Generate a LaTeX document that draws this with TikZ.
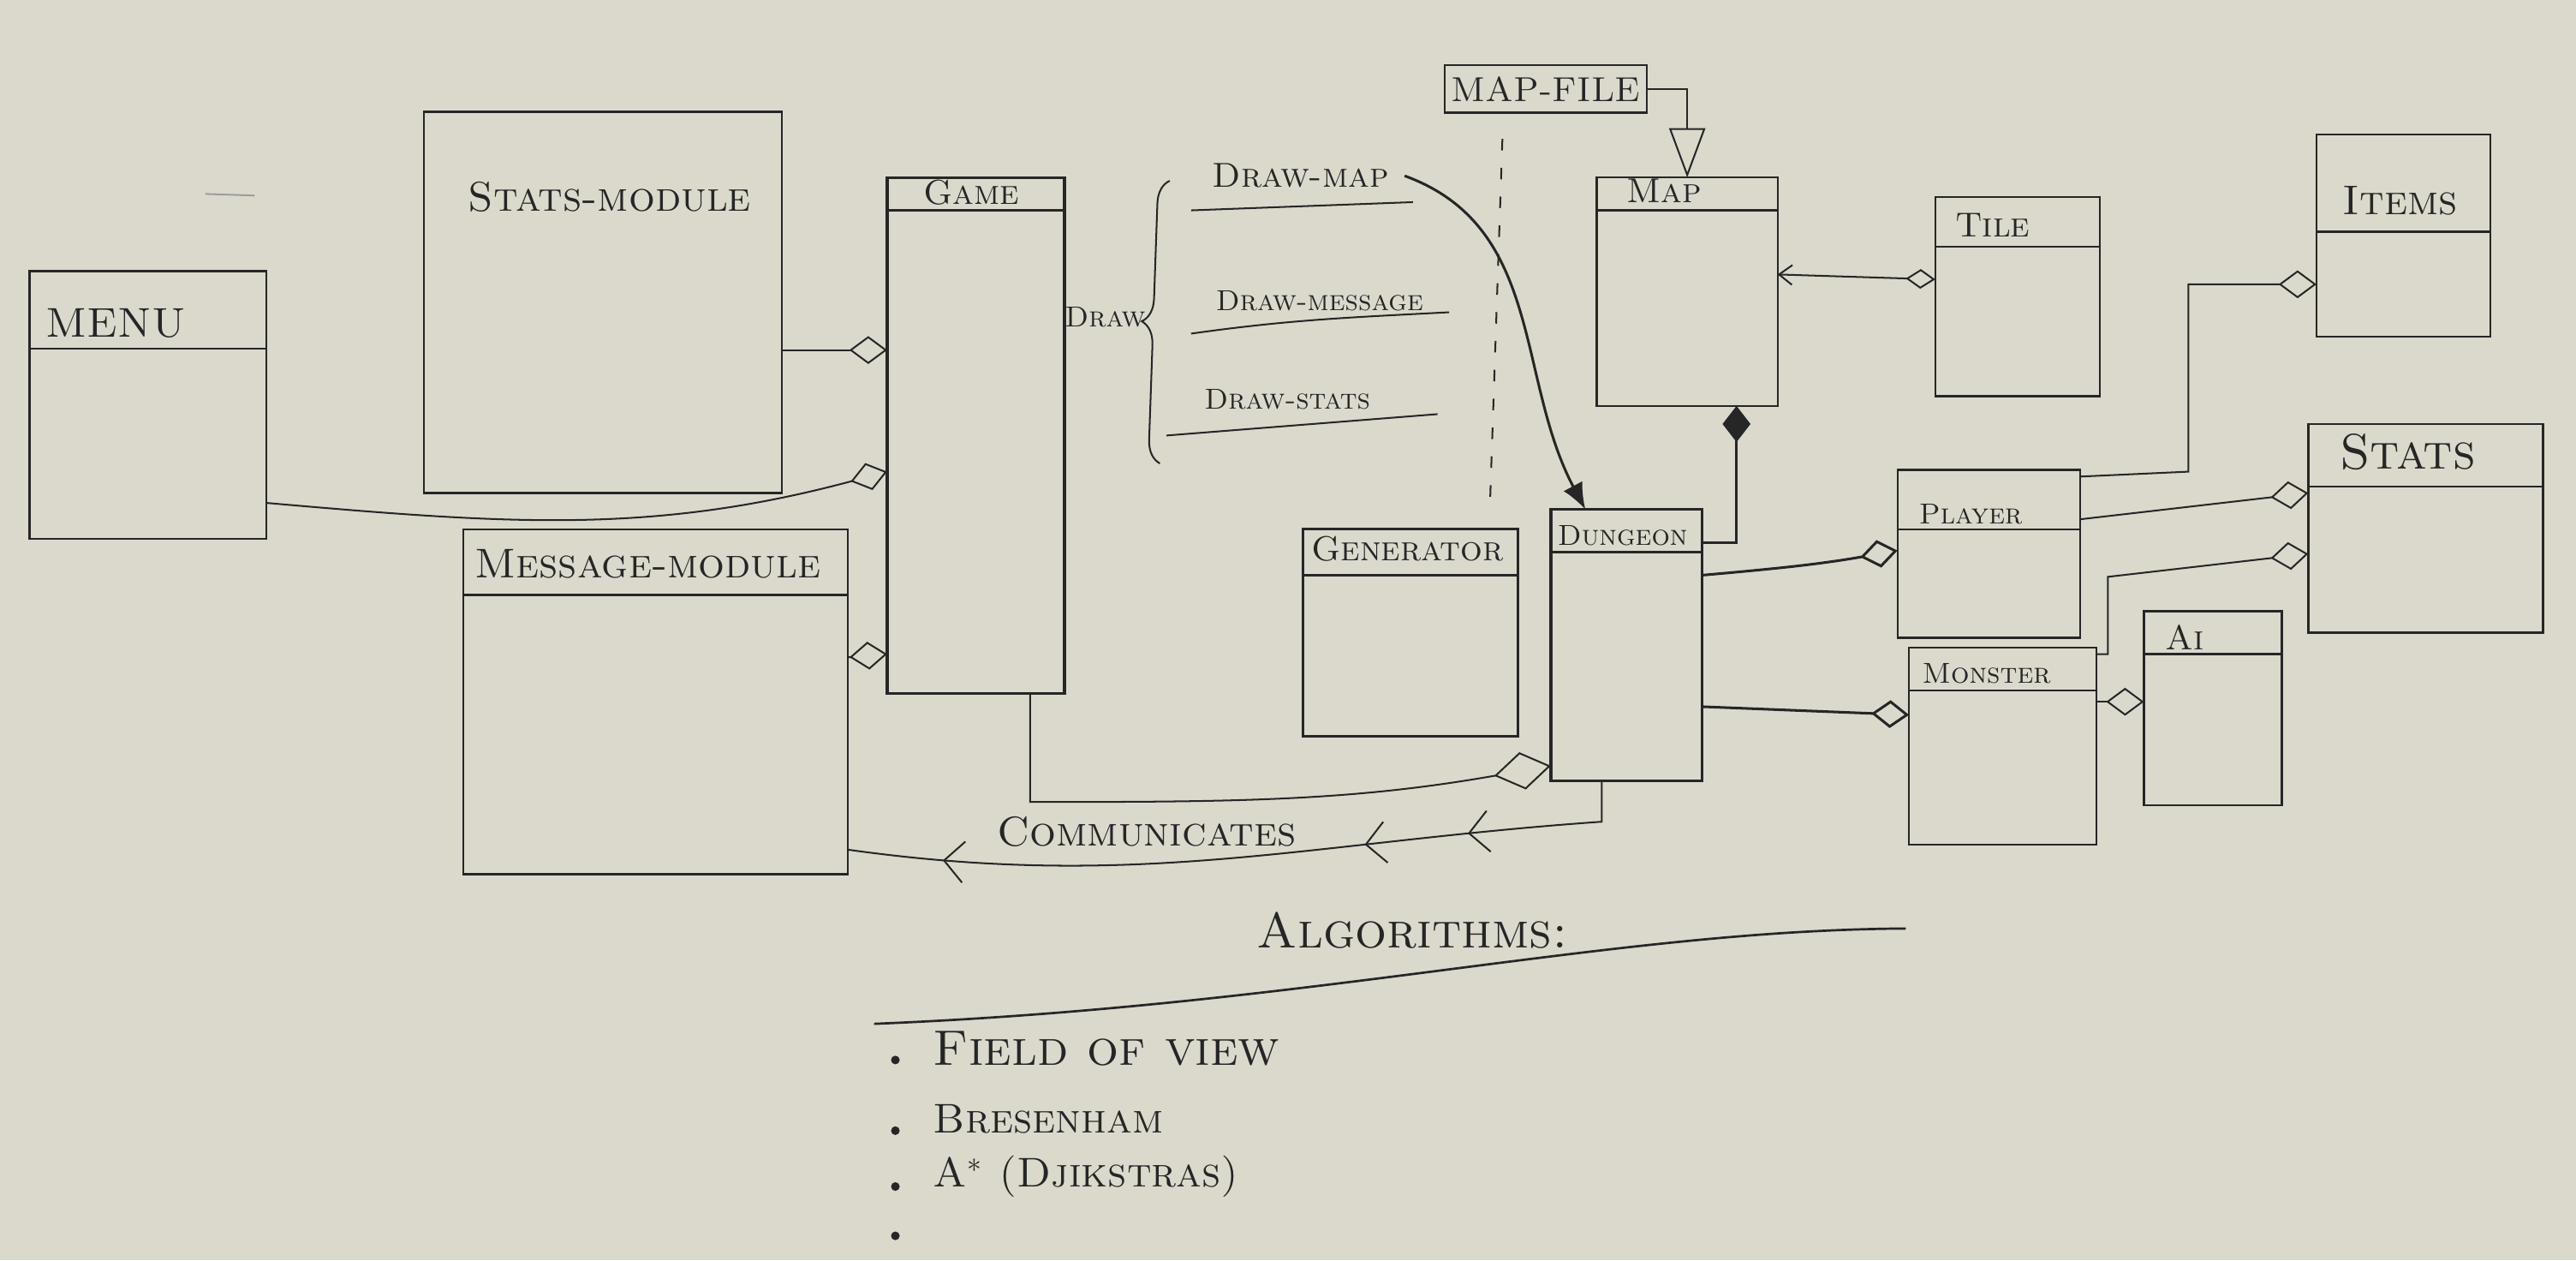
\documentclass[tikz,border=0pt]{standalone}
\usepackage{xcolor}
\usepackage{tikz}
\usetikzlibrary{arrows.meta,positioning,decorations.pathreplacing,decorations.markings}
\definecolor{paper}{RGB}{218,217,204}
\definecolor{ink}{RGB}{38,38,38}
\tikzset{
    classbox/.style={draw=ink, line width=0.7pt, anchor=north west,
    inner sep=0pt, outer sep=0pt},
    classname/.style={font=\scshape\large, text=ink, anchor=west, inner sep=1pt},
    divider/.style={draw=ink, line width=0.7pt},
    link/.style={draw=ink, line width=0.6pt},
    agg/.style={link, -{Diamond[open, length=4.6mm, width=3.4mm]}},
    bulletdot/.style={circle, fill=ink, inner sep=0pt, minimum size=3pt},
}

\begin{document}
\begin{tikzpicture}[
            x=0.2mm, y=-0.2mm,
            >={Latex[length=3.2mm, width=2.6mm]},
            thickbox/.style={classbox, line width=1pt}
        ]
            \fill[paper] (0,0) rectangle (1568,767);
            \useasboundingbox (0,0) rectangle (1568,767);
            \draw[link, ink!45] (125,118) -- (155,119);
            % left column
            \node[classbox, minimum width=2.88cm, minimum height=3.26cm] (menu) at (18,165) {};
            \node[classname, font=\scshape\Large] (menut) at (26,197) {MENU};
            \draw[divider] ([yshift=-0.94cm]menu.north west) -- ([yshift=-0.94cm]menu.north east);
            \node[classbox, minimum width=4.36cm, minimum height=4.64cm] (statsmod) at (258,68) {};
            \node[classname, font=\scshape\Large] (statsmodt) at (283,120) {Stats-module};
            \node[classbox, minimum width=4.68cm, minimum height=4.2cm] (msgmod) at (282,322) {};
            \node[classname, font=\scshape\Large] (msgmodt) at (287,343) {Message-module};
            \draw[divider] ([yshift=-0.8cm]msgmod.north west) -- ([yshift=-0.8cm]msgmod.north east);
            \node[thickbox, minimum width=2.16cm, minimum height=6.28cm] (game) at (540,108) {};
            \node[classname] (gamet) at (560,117) {Game};
            \draw[divider] ([yshift=-0.4cm]game.north west) -- ([yshift=-0.4cm]game.north east);
            % draw methods
            \node[classname, font=\scshape] (drawlbl) at (646,193) {Draw};
            \draw[link, decorate, decoration={brace, amplitude=8pt}] (706,282) -- (712,110);
            \node[classname] (drawmap) at (736,107) {Draw-map};
            \node[classname, font=\scshape] (drawmsg) at (738,183) {Draw-message};
            \node[classname, font=\scshape] (drawstats) at (731,243) {Draw-stats};
            \draw[link] (725,128) -- (860,123);
            \draw[link] (725,203) to[out=8,in=183] (882,190);
            \draw[link] (710,265) -- (875,252);
            % map side
            \node[classbox, minimum width=2.46cm, minimum height=0.58cm, anchor=center,
                font=\scshape\large, text=ink] (mapfile) at (941,54) {MAP-FILE};
            \node[classbox, minimum width=2.2cm, minimum height=2.78cm] (map) at (972,108) {};
            \node[classname] (mapt) at (988,116) {Map};
            \draw[divider] ([yshift=-0.4cm]map.north west) -- ([yshift=-0.4cm]map.north east);
            \node[classbox, minimum width=2cm, minimum height=2.42cm] (tile) at (1178,120) {};
            \node[classname] (tilet) at (1188,137) {Tile};
            \draw[divider] ([yshift=-0.6cm]tile.north west) -- ([yshift=-0.6cm]tile.north east);
            \node[thickbox, minimum width=2.62cm, minimum height=2.52cm] (generator) at (793,322) {};
            \node[classname] (generatort) at (796,334) {Generator};
            \draw[divider] ([yshift=-0.56cm]generator.north west) -- ([yshift=-0.56cm]generator.north east);
            \node[thickbox, minimum width=1.84cm, minimum height=3.3cm] (dungeon) at (944,310) {};
            \node[classname, font=\scshape] (dungeont) at (946,326) {Dungeon};
            \draw[divider] ([yshift=-0.52cm]dungeon.north west) -- ([yshift=-0.52cm]dungeon.north east);
            % entities
            \node[classbox, minimum width=2.22cm, minimum height=2.04cm] (player) at (1155,286) {};
            \node[classname, font=\scshape] (playert) at (1166,313) {Player};
            \draw[divider] ([yshift=-0.72cm]player.north west) -- ([yshift=-0.72cm]player.north east);
            \node[classbox, minimum width=2.28cm, minimum height=2.4cm] (monster) at (1162,394) {};
            \node[classname, font=\scshape] (monstert) at (1168,410) {Monster};
            \draw[divider] ([yshift=-0.52cm]monster.north west) -- ([yshift=-0.52cm]monster.north east);
            \node[classbox, minimum width=1.68cm, minimum height=2.36cm] (ai) at (1305,372) {};
            \node[classname] (ait) at (1316,388) {Ai};
            \draw[divider] ([yshift=-0.52cm]ai.north west) -- ([yshift=-0.52cm]ai.north east);
            \node[classbox, minimum width=2.12cm, minimum height=2.46cm] (items) at (1410,82) {};
            \node[classname, font=\scshape\Large] (itemst) at (1424,122) {Items};
            \draw[divider] ([yshift=-1.18cm]items.north west) -- ([yshift=-1.18cm]items.north east);
            \node[classbox, minimum width=2.86cm, minimum height=2.54cm] (stats) at (1405,258) {};
            \node[classname, font=\scshape\LARGE] (statst) at (1422,275) {Stats};
            \draw[divider] ([yshift=-0.76cm]stats.north west) -- ([yshift=-0.76cm]stats.north east);
            % connectors
            \draw[agg] (statsmod.east |- 0,213) -- (game.west |- 0,213);
            \draw[agg] (menu.east |- 0,306) to[out=-5,in=195] (game.west |- 0,287);
            \draw[agg] (msgmod.east |- 0,400) -- (game.west |- 0,398);
            \draw[link, -{Diamond[open, length=7mm, width=4.6mm]}] ([xshift=0.66cm]game.south)
                -- ++(0,66) to[out=0,in=190] (dungeon.west |- 0,466);
            \draw[link, postaction={decorate}, decoration={markings,
                mark=at position 0.22 with {\arrow{Straight Barb[length=2.4mm, width=5mm]}},
                mark=at position 0.35 with {\arrow{Straight Barb[length=2.4mm, width=5mm]}},
                mark=at position 0.88 with {\arrow{Straight Barb[length=2.4mm, width=5mm]}}}]
                ([xshift=-0.3cm]dungeon.south) -- ++(0,25) to[out=184,in=-8] (msgmod.east |- 0,517);
            \node[classname, font=\scshape\Large] (comm) at (605,506) {Communicates};
            \draw[link, -{Triangle[open, length=6mm, width=4.4mm]}] (mapfile.east) -| (map.north);
            \draw[link, dash pattern=on 4pt off 6pt] ([xshift=-0.53cm, yshift=-0.32cm]mapfile.south)
                -- ([xshift=-0.34cm, yshift=0.34cm]generator.north east);
            \draw[link, line width=0.9pt, ->] ([xshift=0.15cm]drawmap.east) to[out=-20,in=118]
                ([xshift=0.42cm]dungeon.north west);
            \draw[link, {Straight Barb[length=1.6mm, width=2.4mm]}-{Diamond[open, length=3.6mm, width=2.4mm]}]
                (map.east |- 0,167) -- (tile.west |- 0,170);
            \draw[link, line width=0.9pt, {Diamond[length=4.4mm, width=3.4mm]}-]
                ([xshift=0.6cm]map.south) |- (dungeon.east |- 0,330);
            \draw[agg, line width=0.9pt] (dungeon.east |- 0,350) to[out=5,in=190] (player.west |- 0,335);
            \draw[agg, line width=0.9pt] (dungeon.east |- 0,430) -- (monster.west |- 0,435);
            \draw[agg] (player.east |- 0,290) -- ++(66,-3) |- (items.west |- 0,173);
            \draw[agg] (player.east |- 0,316) -- (stats.west |- 0,300);
            \draw[agg] (monster.east |- 0,398) -- ++(7,0) -- ++(0,-47) -- (stats.west |- 0,337);
            \draw[agg] (monster.east |- 0,427) -- (ai.west |- 0,427);
            % algorithms
            \node[classname, font=\scshape\LARGE] (algos) at (763,566) {Algorithms:};
            \draw[link, line width=0.8pt] (532,623) .. controls (800,612) and (980,566) .. (1160,565);
            \node[bulletdot] (b1) at (545,645) {};
            \node[bulletdot] (b2) at (545,688) {};
            \node[bulletdot] (b3) at (545,722) {};
            \node[bulletdot] (b4) at (545,752) {};
            \node[classname, font=\scshape\LARGE] (fov) at (566,638) {Field of view};
            \node[classname, font=\scshape\Large] (bres) at (566,681) {Bresenham};
            \node[classname, font=\scshape\Large] (astar) at (566,716) {A$^{*}$ (Djikstras)};
        \end{tikzpicture}
\end{document}
